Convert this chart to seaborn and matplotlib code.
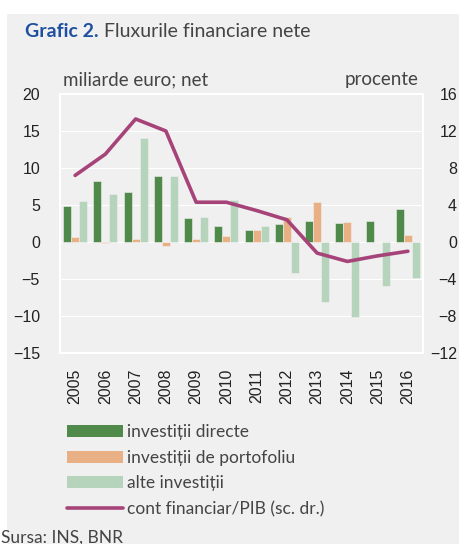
import matplotlib
matplotlib.use("Agg")
import matplotlib.pyplot as plt
from matplotlib.patches import Rectangle, Patch
from matplotlib.lines import Line2D
import numpy as np
import pandas as pd
import seaborn as sns

# date (miliarde euro; linia in procente din PIB)
years = ['2005', '2006', '2007', '2008', '2009', '2010',
         '2011', '2012', '2013', '2014', '2015', '2016']
investitii_directe = [4.9, 8.2, 6.8, 8.9, 3.3, 2.2, 1.6, 2.5, 2.8, 2.6, 2.8, 4.4]
investitii_portofoliu = [0.7, -0.2, 0.4, -0.6, 0.4, 0.8, 1.6, 3.4, 5.4, 2.7, 0.0, 0.9]
alte_investitii = [5.5, 6.5, 14.0, 8.9, 3.4, 5.7, 2.2, -4.2, -8.1, -10.1, -6.0, -4.9]
cont_financiar_pib = [7.2, 9.5, 13.3, 12.0, 4.3, 4.3, 3.4, 2.4, -1.2, -2.1, -1.5, -1.0]

series_names = ['investiții directe', 'investiții de portofoliu', 'alte investiții']
line_name = 'cont financiar/PIB (sc. dr.)'
colors = ['#4f8a4b', '#e8b084', '#b6d3bc']
line_color = '#a6447a'
bg = '#f0f0f0'

df = pd.DataFrame({
    'an': years * 3,
    'serie': [series_names[0]] * 12 + [series_names[1]] * 12 + [series_names[2]] * 12,
    'valoare': investitii_directe + investitii_portofoliu + alte_investitii,
})

sns.set_style("darkgrid", rc={'axes.facecolor': bg, 'grid.color': 'white',
                              'grid.linewidth': 1.5, 'axes.edgecolor': 'white'})
plt.rcParams['font.family'] = ['Lato', 'DejaVu Sans']
text_color = '#444444'
tick_family = ['Liberation Sans', 'DejaVu Sans']
tick_size = 11.5

fig = plt.figure(figsize=(4.59, 5.44), dpi=100)
fig.add_artist(Rectangle((7 / 459, 0), 1, 1 - 14 / 544, transform=fig.transFigure,
                         facecolor=bg, edgecolor='none', zorder=-5))

ax = fig.add_axes([60 / 459, 1 - 353 / 544, 363 / 459, 259 / 544])
sns.barplot(data=df, x='an', y='valoare', hue='serie', palette=colors, ax=ax,
            width=0.8, legend=False, edgecolor=bg, linewidth=0.4, saturation=1)
ax.set_ylim(-15, 20)
ax.set_yticks(np.arange(-15, 21, 5))
ax.set_xlabel('')
ax.set_ylabel('')
for s in ax.spines.values():
    s.set_visible(True)
    s.set_color('white')
    s.set_linewidth(1.5)
ax.grid(axis='x', visible=False)

ax2 = ax.twinx()
sns.lineplot(x=np.arange(len(years)), y=cont_financiar_pib, ax=ax2, color=line_color,
             linewidth=2.6)
ax2.set_ylim(-12, 16)
ax2.set_yticks(np.arange(-12, 17, 4))
ax2.grid(False)
for s in ax2.spines.values():
    s.set_visible(False)
ax.set_xlim(-0.5, len(years) - 0.5)

ax.tick_params(axis='y', length=0, pad=14.4, colors='#222222')
ax.tick_params(axis='x', length=0, pad=11, colors='#222222')
ax2.tick_params(axis='y', length=0, pad=24.5, colors='#222222')
for lab in ax.get_yticklabels():
    lab.set_fontfamily(tick_family)
    lab.set_fontsize(tick_size)
for lab in ax2.get_yticklabels():
    lab.set_fontfamily(tick_family)
    lab.set_fontsize(tick_size)
    lab.set_horizontalalignment('right')
ax.set_xticks(range(len(years)))
ax.set_xticklabels(years, rotation=90, fontfamily=tick_family, fontsize=tick_size)

fig.text(63 / 459, 1 - 80 / 544, 'miliarde euro; net', ha='left', va='center',
         fontsize=13.5, color=text_color)
fig.text(419 / 459, 1 - 80 / 544, 'procente', ha='right', va='center',
         fontsize=13.5, color=text_color)

t1 = fig.text(25 / 459, 1 - 37 / 544, 'Grafic 2.', ha='left', va='baseline',
              fontsize=14, fontweight='bold', color='#1f4fa0')
fig.add_artist(plt.Annotation(' Fluxurile financiare nete', xy=(1, 0), xycoords=t1,
                              va='bottom', ha='left', fontsize=14, color=text_color))

handles = [Patch(facecolor=c, edgecolor='none') for c in colors]
handles.append(Line2D([], [], color=line_color, linewidth=2.6))
fig.legend(handles, series_names + [line_name], loc='upper left',
           bbox_to_anchor=(67 / 459, 1 - 424 / 544), frameon=False,
           borderpad=0, borderaxespad=0, handlelength=3.2, handleheight=0.7,
           handletextpad=0.25, labelspacing=0.56, fontsize=12.5,
           labelcolor=text_color)

fig.text(1 / 459, 1 - 530 / 544, 'Sursa: INS, BNR', ha='left', va='top',
         fontsize=12.5, color=text_color)

fig.savefig('out.png', dpi=100)
